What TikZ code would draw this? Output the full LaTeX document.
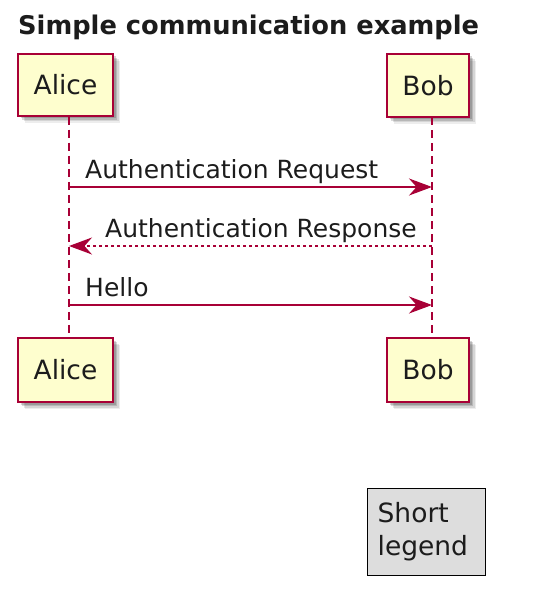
\documentclass[tikz,border=0pt]{standalone}
\usepackage{fontspec}
\setmainfont{DejaVu Sans}
\usetikzlibrary{arrows.meta,shadows}
\definecolor{plborder}{HTML}{A80036}
\definecolor{plfill}{HTML}{FEFECE}
\definecolor{legfill}{HTML}{DDDDDD}
\definecolor{txt}{HTML}{1C1C1C}
\begin{document}
\begin{tikzpicture}[x=1pt,y=-1pt,
  participant/.style={draw=plborder, fill=plfill, line width=1.6pt, inner sep=0pt,
    text=txt, font=\fontsize{26.5}{30}\selectfont,
    drop shadow={shadow xshift=7pt, shadow yshift=-7pt, opacity=.07, fill=black},
    drop shadow={shadow xshift=5.5pt, shadow yshift=-5.5pt, opacity=.1, fill=black},
    drop shadow={shadow xshift=4pt, shadow yshift=-4pt, opacity=.14, fill=black},
    drop shadow={shadow xshift=2.5pt, shadow yshift=-2.5pt, opacity=.16, fill=black}},
  lifeline/.style={draw=plborder, line width=1.3pt, dash pattern=on 8pt off 5pt},
  msg/.style={draw=plborder, line width=1.6pt, -{Stealth[length=23pt,width=17pt,inset=7.5pt]}},
  reply/.style={msg, dash pattern=on 3pt off 3pt},
  msgtext/.style={anchor=base west, inner sep=0pt, text=txt, font=\fontsize{25}{29}\selectfont},
  legendbox/.style={draw=black, fill=legfill, line width=1.3pt, inner xsep=10pt, inner ysep=0pt,
    text width=98pt, align=left, minimum height=87pt, text=txt,
    font=\fontsize{26.5}{33}\selectfont}]
\useasboundingbox (0,0) rectangle (554,596);

\node[anchor=base west, inner sep=0pt, text=txt, font=\fontsize{25.7}{30}\bfseries\selectfont] (title) at (18,35) {Simple communication example};

\node[participant, minimum width=95pt, minimum height=62pt] (aliceTop) at (65.5,85) {Alice};
\node[participant, minimum width=82pt, minimum height=63pt] (bobTop) at (428,85.5) {Bob};
\node[participant, minimum width=95pt, minimum height=64pt] (aliceBot) at (65.5,370) {Alice};
\node[participant, minimum width=82pt, minimum height=64pt] (bobBot) at (428,370) {Bob};

\coordinate (aS) at (69,116.75);
\coordinate (aE) at (69,338);
\coordinate (bS) at (432,117.25);
\coordinate (bE) at (432,338);
\draw[lifeline] (aS) -- (aE);
\draw[lifeline] (bS) -- (bE);

\coordinate (m1a) at (69,187);
\coordinate (m1b) at (432,187);
\coordinate (m2a) at (432,246);
\coordinate (m2b) at (69,246);
\coordinate (m3a) at (69,305);
\coordinate (m3b) at (432,305);
\draw[msg] (m1a) -- (m1b);
\draw[reply] (m2a) -- (m2b);
\draw[msg] (m3a) -- (m3b);

\node[msgtext] (t1) at (85,178) {Authentication Request};
\node[msgtext] (t2) at (105,237) {Authentication Response};
\node[msgtext] (t3) at (85,296) {Hello};

\node[legendbox, anchor=north west] (legend) at (367,488) {Short\\legend};
\end{tikzpicture}
\end{document}
